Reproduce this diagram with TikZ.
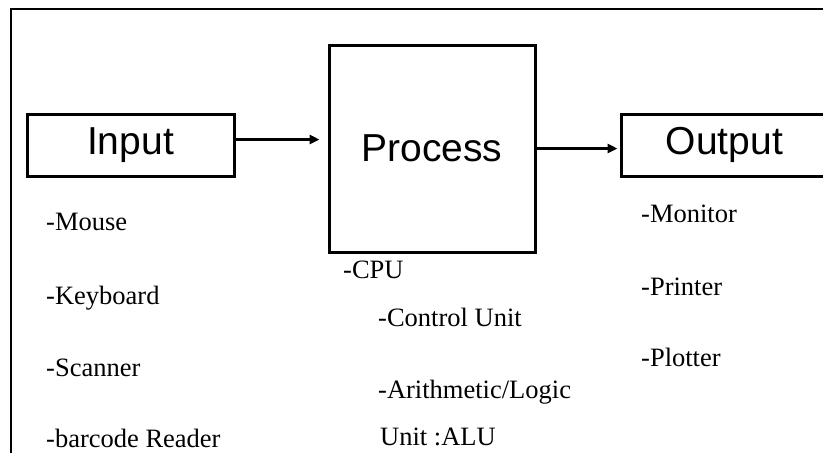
\documentclass[tikz,border=0pt]{standalone}
\usepackage{fontspec}
\setmainfont{Liberation Serif}
\newfontfamily\boxfont{Liberation Sans}
\usetikzlibrary{arrows.meta}
\tikzset{
  bigbox/.style={draw=black, line width=3pt, inner sep=0pt, minimum width=207pt, minimum height=62pt,
    font=\boxfont\fontsize{39}{45}\selectfont},
  arr/.style={draw=black, line width=2.6pt, -{Triangle[length=10pt,width=9pt]}},
  lbl/.style={anchor=base west, inner sep=0pt, font=\fontsize{26.5}{30}\selectfont},
  frame/.style={line width=1.3pt}
}
\begin{document}
\begin{tikzpicture}[x=1pt,y=-1pt]
\useasboundingbox (0,0) rectangle (823,453);
\clip (0,0) rectangle (823,453);
\fill[white] (0,0) rectangle (823,453);
\draw[frame] (11,453) -- (11,9) -- (823,9);
\node[bigbox] (inbox) at (130.5,145) {\raisebox{-2pt}{Input}};
\node[bigbox, minimum height=207pt, minimum width=206pt] (procbox) at (432,148.5) {Process};
\node[bigbox] (outbox) at (724.5,145) {\raisebox{-2pt}{Output}};
\path[arr, shorten >=8pt] ([yshift=5.5pt]inbox.east) -- ([yshift=5.5pt]procbox.west |- inbox.east);
\path[arr, shorten >=2pt] (procbox.east) -- (outbox.west |- procbox.east);
\node[lbl] (mouse) at (46,230) {-Mouse};
\node[lbl] (kbd) at (46,304) {-Keyboard};
\node[lbl] (scan) at (46,376) {-Scanner};
\node[lbl] (bar) at (46,447) {-barcode Reader};
\node[lbl] (cpu) at (343,278) {-CPU};
\node[lbl] (cu) at (378,326) {-Control Unit};
\node[lbl] (alu1) at (378,398) {-Arithmetic/Logic};
\node[lbl] (alu2) at (380,445) {Unit :ALU};
\node[lbl] (mon) at (641,222) {-Monitor};
\node[lbl] (prn) at (641,295) {-Printer};
\node[lbl] (plt) at (641,366) {-Plotter};
\end{tikzpicture}
\end{document}
